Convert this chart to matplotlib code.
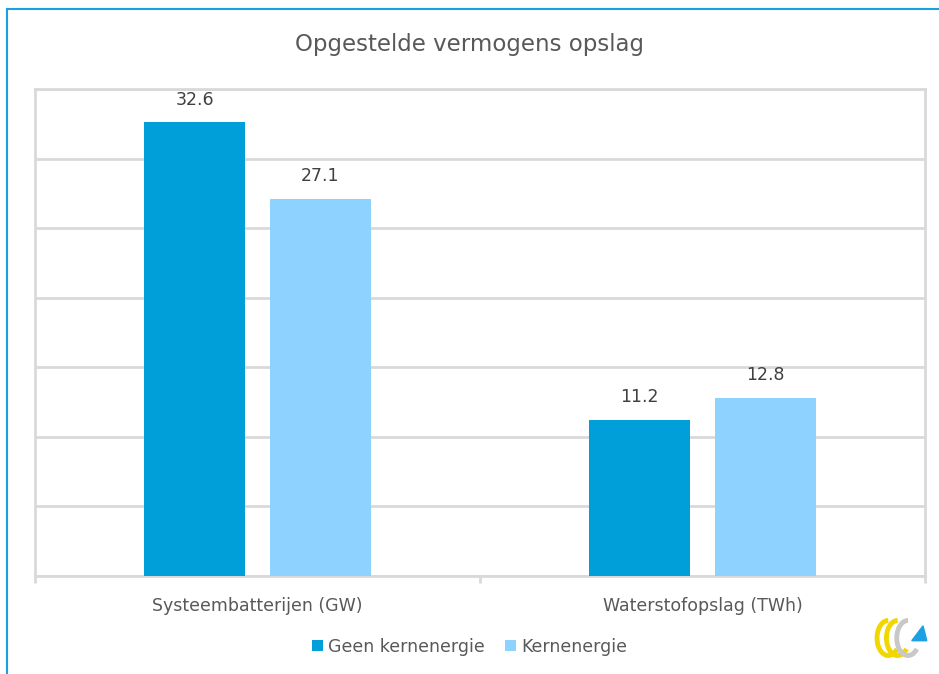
import matplotlib.pyplot as plt
import numpy as np
from matplotlib.patches import Arc, Polygon, Rectangle

categories = ['Systeembatterijen (GW)', 'Waterstofopslag (TWh)']
series_names = ['Geen kernenergie', 'Kernenergie']
geen_kern = [32.6, 11.2]
kern = [27.1, 12.8]

dark = '#009FDA'
light = '#8ED3FF'
grid_c = '#D9D9D9'
text_c = '#595959'


def main():
    plt.rcParams['font.family'] = ['DejaVu Sans']
    fig = plt.figure(figsize=(9.39, 6.74), dpi=100)

    # blauwe rand links en boven (rechts/onder vallen buiten beeld)
    fig.patches.append(Rectangle((7 / 939, -0.1), 1.2, 0.1 + (674 - 9) / 674, transform=fig.transFigure,
                                 fill=False, edgecolor='#1BA1E2', linewidth=1.5))

    ax = fig.add_axes([35 / 939, 98 / 674, 890 / 939, 487 / 674])
    x = np.arange(len(categories))
    w = 0.225
    off = 0.1415
    b1 = ax.bar(x - off, geen_kern, w, color=dark, label=series_names[0], zorder=3)
    b2 = ax.bar(x + off, kern, w, color=light, label=series_names[1], zorder=3)

    for bars in (b1, b2):
        for b in bars:
            ax.annotate('%.1f' % b.get_height(), (b.get_x() + b.get_width() / 2, b.get_height()),
                        xytext=(0, 10), textcoords='offset points', ha='center', va='bottom',
                        fontsize=12.5, color='#404040')

    ax.set_xlim(-0.5, 1.5)
    ax.set_ylim(0, 35)
    ax.set_yticks(np.arange(0, 36, 5))
    ax.set_yticklabels([])
    ax.tick_params(axis='y', length=0)
    ax.yaxis.grid(True, color=grid_c, linewidth=2, zorder=0)
    ax.set_xticks(x)
    ax.set_xticklabels(categories, fontsize=12.5, color=text_c)
    ax.tick_params(axis='x', length=0, pad=15)
    # scheidingsstreepjes onder de as
    ax.set_xticks([-0.5, 0.5, 1.5], minor=True)
    ax.tick_params(axis='x', which='minor', length=5, width=2, color=grid_c)
    for s in ax.spines.values():
        s.set_color(grid_c)
        s.set_linewidth(2)

    fig.text(0.5, 1 - 45 / 674, 'Opgestelde vermogens opslag', ha='center', va='center',
             fontsize=16.5, color=text_c)

    fig.legend(handles=[b1, b2], labels=series_names, loc='center', bbox_to_anchor=(0.5, 1 - 647 / 674),
               ncol=2, frameon=False, fontsize=12.5, labelcolor=text_c, handlelength=0.6,
               handleheight=0.6, handletextpad=0.3, columnspacing=1.2)

    # klein logo rechtsonder
    lx, ly = 0.962, 1 - 638 / 674
    for dx, c in [(-0.016, '#F2D600'), (-0.006, '#F2D600'), (0.005, '#C8C8C8')]:
        fig.patches.append(Arc((lx + dx, ly), 0.024, 0.052, theta1=90, theta2=300,
                               transform=fig.transFigure, color=c, linewidth=3.5))
    fig.patches.append(Polygon([[lx + 0.009, ly - 0.004], [lx + 0.025, ly - 0.004], [lx + 0.021, ly + 0.018]],
                               closed=True, transform=fig.transFigure, color='#1BA1E2'))

    fig.savefig('out.png', dpi=100)


if __name__ == '__main__':
    main()
